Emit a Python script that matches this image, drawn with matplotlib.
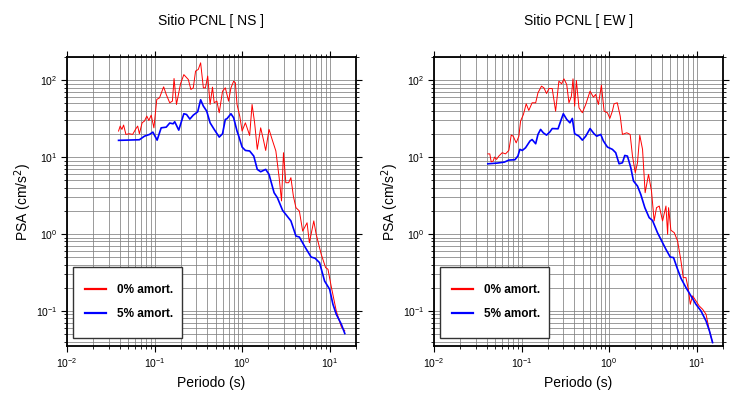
import matplotlib
matplotlib.use("Agg")
import matplotlib.pyplot as plt
from matplotlib.patches import Rectangle
from matplotlib.ticker import LogLocator, NullFormatter

plt.rcParams['font.family'] = ['Liberation Sans', 'DejaVu Sans']

# --- Sitio PCNL, componente NS ---
ns_t5 = [0.0388, 0.0671, 0.0767, 0.0876, 0.0957, 0.107, 0.119, 0.136, 0.149, 0.163,
         0.170, 0.189, 0.216, 0.232, 0.253, 0.277, 0.311, 0.336, 0.361, 0.394,
         0.431, 0.480, 0.548, 0.598, 0.643, 0.671, 0.746, 0.801, 0.875, 0.916,
         1.0, 1.09, 1.22, 1.36, 1.49, 1.63, 1.86, 2.03, 2.32, 2.53,
         2.90, 3.61, 4.12, 4.51, 5.15, 6.14, 6.83, 7.67, 8.75, 10.0,
         10.9, 11.9, 13.6, 14.9]
ns_psa5 = [16.5, 16.8, 18.7, 19.7, 21.1, 16.6, 24.0, 24.5, 27.7, 27.1,
           28.8, 22.4, 36.6, 35.8, 31.2, 35.1, 38.8, 55.6, 46.0, 39.6,
           27.9, 22.9, 18.2, 20.1, 30.9, 31.5, 36.6, 32.4, 21.8, 18.7,
           13.5, 12.2, 12.0, 10.3, 6.92, 6.45, 6.92, 5.96, 3.44, 2.96,
           2.03, 1.48, 0.94, 0.914, 0.698, 0.502, 0.483, 0.424, 0.245, 0.191,
           0.122, 0.0906, 0.0671, 0.0508]

ns_t0 = [0.0388, 0.0405, 0.0424, 0.0443, 0.0471, 0.0515, 0.0562, 0.0614, 0.0642, 0.0671,
         0.0721, 0.0767, 0.0816, 0.0861, 0.0916, 0.0983, 0.106, 0.114, 0.127, 0.136,
         0.149, 0.160, 0.167, 0.178, 0.198, 0.216, 0.243, 0.260, 0.277, 0.294,
         0.316, 0.336, 0.361, 0.381, 0.405, 0.431, 0.459, 0.480, 0.515, 0.548,
         0.598, 0.643, 0.701, 0.746, 0.801, 0.838, 0.875, 0.940, 1.0, 1.09,
         1.14, 1.22, 1.30, 1.39, 1.49, 1.63, 1.75, 1.86, 2.03, 2.22,
         2.43, 2.65, 2.82, 2.97, 3.16, 3.40, 3.61, 3.85, 4.12, 4.51,
         4.92, 5.52, 5.87, 6.59, 7.02, 8.01, 8.99, 9.57, 10.4, 11.9,
         13.6, 14.9]
ns_psa0 = [21.8, 25.3, 22.9, 26.1, 19.7, 20.1, 19.7, 23.5, 25.3, 20.1,
           27.9, 29.4, 34.1, 29.9, 35.1, 24.0, 56.1, 59.0, 81.9, 65.2,
           50.8, 53.4, 105, 48.3, 89.6, 118, 102, 75.7, 79.5, 131,
           138, 168, 79.5, 79.5, 113, 48.3, 81.1, 50.8, 53.4, 37.7,
           71.9, 79.5, 53.4, 79.5, 97.0, 92.3, 48.3, 34.1, 21.8, 27.9,
           24.0, 19.1, 48.3, 27.9, 12.6, 24.0, 16.9, 12.2, 22.9, 16.5,
           12.0, 5.40, 2.69, 11.4, 4.64, 4.64, 5.40, 3.12, 2.20, 1.99,
           1.09, 1.40, 0.771, 1.48, 0.99, 0.545, 0.366, 0.348, 0.211, 0.100,
           0.0620, 0.0550]

# --- Sitio PCNL, componente EW ---
ew_t5 = [0.0412, 0.0526, 0.0638, 0.0716, 0.0839, 0.0908, 0.0957, 0.102, 0.111, 0.125,
         0.132, 0.145, 0.154, 0.165, 0.177, 0.193, 0.211, 0.224, 0.261, 0.280,
         0.300, 0.328, 0.357, 0.380, 0.404, 0.453, 0.495, 0.541, 0.606, 0.673,
         0.722, 0.803, 0.861, 0.957, 1.09, 1.19, 1.30, 1.42, 1.51, 1.62,
         1.77, 1.90, 2.11, 2.30, 2.56, 2.87, 3.13, 3.57, 4.08, 4.46,
         4.99, 5.45, 5.96, 6.62, 7.55, 8.61, 9.82, 11.2, 12.8, 14.0,
         15.2]
ew_psa5 = [8.18, 8.35, 8.61, 9.14, 9.23, 10.3, 12.6, 12.2, 13.2, 16.2,
           16.9, 14.9, 19.7, 22.9, 20.7, 19.3, 21.3, 23.5, 23.3, 29.4,
           36.6, 30.9, 27.9, 31.8, 20.1, 18.7, 16.6, 18.7, 23.5, 20.1,
           18.7, 19.7, 16.2, 13.5, 12.6, 11.4, 8.18, 8.43, 10.5, 10.3,
           7.26, 4.88, 4.20, 3.27, 2.20, 1.63, 1.50, 1.04, 0.771, 0.632,
           0.502, 0.493, 0.366, 0.266, 0.201, 0.157, 0.122, 0.100, 0.0741, 0.0550,
           0.0388]

ew_t0 = [0.0412, 0.0434, 0.0450, 0.0474, 0.0491, 0.0518, 0.0550, 0.0601, 0.0656, 0.0716,
         0.0762, 0.0803, 0.0869, 0.0932, 0.0975, 0.105, 0.113, 0.121, 0.132, 0.145,
         0.154, 0.169, 0.180, 0.193, 0.206, 0.224, 0.245, 0.267, 0.287, 0.305,
         0.328, 0.348, 0.371, 0.387, 0.404, 0.423, 0.453, 0.495, 0.541, 0.606,
         0.662, 0.703, 0.755, 0.817, 0.877, 0.957, 1.02, 1.09, 1.14, 1.24,
         1.34, 1.42, 1.59, 1.74, 1.85, 1.99, 2.11, 2.24, 2.41, 2.58,
         2.82, 3.05, 3.27, 3.48, 3.74, 4.08, 4.46, 4.66, 4.78, 5.08,
         5.55, 6.06, 6.62, 7.03, 7.55, 8.04, 8.46, 9.00, 9.82, 10.7,
         11.7, 12.8, 14.0, 15.2]
ew_psa0 = [11.0, 11.0, 8.69, 8.87, 10.0, 9.33, 10.3, 11.4, 11.0, 12.2,
           19.3, 18.7, 15.3, 18.7, 29.4, 35.8, 49.3, 40.4, 50.8, 50.8,
           68.4, 83.6, 79.5, 67.1, 77.9, 77.9, 39.5, 97.0, 89.6, 104,
           87.8, 50.8, 61.9, 104, 45.9, 99.0, 43.7, 37.7, 48.3, 71.9,
           60.1, 65.2, 48.3, 86.1, 39.5, 37.7, 31.8, 39.5, 49.3, 50.8,
           34.1, 19.7, 20.7, 19.7, 10.3, 6.26, 8.43, 19.3, 12.6, 3.44,
           5.96, 3.61, 1.48, 2.20, 2.31, 1.48, 2.31, 0.99, 2.20, 1.12,
           1.04, 0.811, 0.446, 0.271, 0.271, 0.191, 0.122, 0.157, 0.135, 0.116,
           0.105, 0.0906, 0.0550, 0.0388]

panels = [
    ("Sitio PCNL [ NS ]", ns_t0, ns_psa0, ns_t5, ns_psa5),
    ("Sitio PCNL [ EW ]", ew_t0, ew_psa0, ew_t5, ew_psa5),
]

fig = plt.figure(figsize=(7.3, 4.0), dpi=100)
lefts = [67 / 730, 434 / 730]

# legend box in axes fraction: x, y, w, h
box = (0.021, 0.028, 0.378, 0.246)

for left, (title, t0, p0, t5, p5) in zip(lefts, panels):
    ax = fig.add_axes([left, 54 / 400, 289 / 730, 289 / 400])
    ax.set_xscale("log")
    ax.set_yscale("log")
    ax.set_xlim(0.01, 20)
    ax.set_ylim(0.035, 200)

    ax.xaxis.set_major_locator(LogLocator(base=10, numticks=10))
    ax.xaxis.set_minor_locator(LogLocator(base=10, subs=range(2, 10), numticks=20))
    ax.yaxis.set_major_locator(LogLocator(base=10, numticks=10))
    ax.yaxis.set_minor_locator(LogLocator(base=10, subs=range(2, 10), numticks=20))
    ax.xaxis.set_minor_formatter(NullFormatter())
    ax.yaxis.set_minor_formatter(NullFormatter())

    ax.grid(True, which="both", color="#808080", linewidth=0.55)
    ax.set_axisbelow(True)

    ax.plot(t0, p0, color="#ff0000", linewidth=0.7, label="0% amort.")
    ax.plot(t5, p5, color="#0000ff", linewidth=1.2, label="5% amort.")

    ax.tick_params(which="both", direction="out", top=True, right=True,
                   labelsize=7.5, color="black", pad=3)
    ax.tick_params(which="major", length=4, width=0.8)
    ax.tick_params(which="minor", length=2, width=0.6)
    for s in ax.spines.values():
        s.set_linewidth(1.3)

    ax.set_title(title, fontsize=10, pad=23)
    ax.set_xlabel("Periodo (s)", fontsize=10, labelpad=5)
    ax.set_ylabel("PSA (cm/s$^2$)", fontsize=10, labelpad=1)

    # white legend frame with a dark border
    ax.add_patch(Rectangle(box[:2], box[2], box[3], transform=ax.transAxes,
                           facecolor="white", edgecolor="#333333", linewidth=1.0,
                           zorder=4))
    leg = ax.legend(loc="center",
                    bbox_to_anchor=(box[0] + box[2] / 2 + 0.005, box[1] + box[3] / 2),
                    frameon=False, prop={"weight": "bold", "size": 8.5},
                    handlelength=1.8, handletextpad=0.95, borderpad=0,
                    labelspacing=1.0)
    leg.set_zorder(5)
    for line in leg.get_lines():
        line.set_linewidth(1.6)

fig.savefig("out.png", dpi=100)
